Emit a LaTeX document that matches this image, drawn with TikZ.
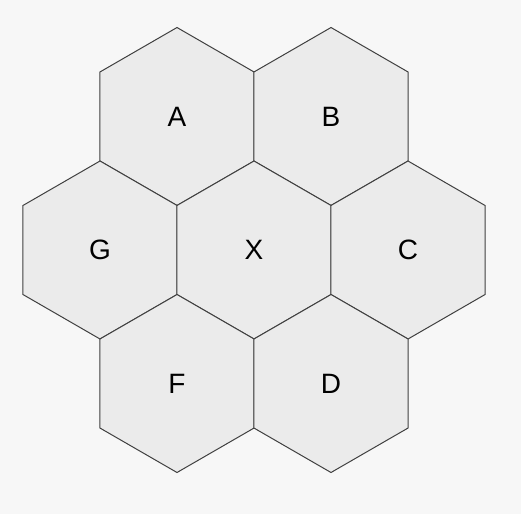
\documentclass[tikz,border=0pt]{standalone}
\usepackage{fontspec}
\setmainfont{Liberation Sans}
\usetikzlibrary{shapes.geometric}
\definecolor{bgcol}{HTML}{F7F7F7}
\definecolor{hexfill}{HTML}{EBEBEB}
\definecolor{hexline}{HTML}{404040}
\tikzset{
  hexcell/.style={regular polygon, regular polygon sides=6, shape border rotate=30,
    minimum size=178pt, inner sep=0pt, outer sep=0pt, fill=hexfill, draw=hexline,
    line width=1pt, font=\fontsize{28}{32}\selectfont, text=black}
}
\begin{document}
\begin{tikzpicture}[x=1pt,y=-1pt]
\fill[bgcol] (0,0) rectangle (521,514);
\useasboundingbox (0,0) rectangle (521,514);
\node[hexcell] (A) at (177,116.5) {A};
\node[hexcell] (B) at (331,116.5) {B};
\node[hexcell] (G) at (100,250) {G};
\node[hexcell] (X) at (254,250) {X};
\node[hexcell] (C) at (408,250) {C};
\node[hexcell] (F) at (177,383.5) {F};
\node[hexcell] (D) at (331,383.5) {D};
\end{tikzpicture}
\end{document}
